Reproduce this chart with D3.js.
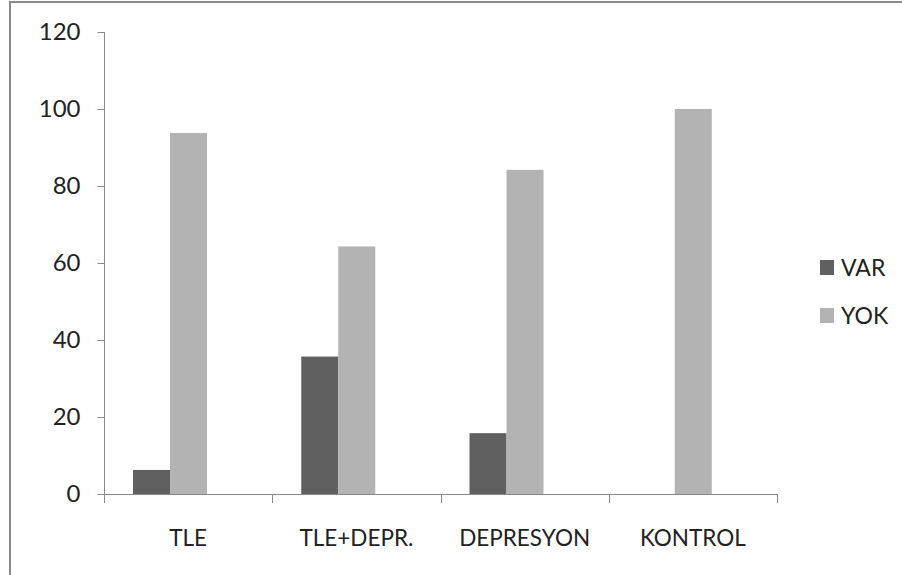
<!DOCTYPE html>
<html><head><meta charset="utf-8">
<script src="https://cdn.jsdelivr.net/npm/d3@7"></script>
<style>html,body{margin:0;padding:0;background:#fff;}svg{display:block;}</style>
</head><body><svg id="c" width="902" height="575"></svg>
<script>
const categories = ["TLE", "TLE+DEPR.", "DEPRESYON", "KONTROL"];
const seriesNames = ["VAR", "YOK"];
const varValues = [6.25, 35.7, 15.8, 0];
const yokValues = [93.75, 64.3, 84.2, 100];
const yTicks = [0, 20, 40, 60, 80, 100, 120];
const colors = ["#606060", "#b3b3b3"];

const svg = d3.select("#c");
const font = "Lato, 'Open Sans', sans-serif";
// border
svg.append("line").attr("x1",10).attr("x2",902).attr("y1",2).attr("y2",2).attr("stroke","#8a8a8a").attr("stroke-width",2);
svg.append("line").attr("x1",10).attr("x2",10).attr("y1",1).attr("y2",575).attr("stroke","#8a8a8a").attr("stroke-width",2);

const x = d3.scaleBand().domain(categories).range([104, 777]).paddingInner(0).paddingOuter(0);
const y = d3.scaleLinear().domain([0,120]).range([494, 32]);
const inner = d3.scaleBand().domain(seriesNames).range([0, 74]);

const data = categories.map((c,i)=>({cat:c, vals:[varValues[i], yokValues[i]]}));
const g = svg.append("g");
data.forEach(d=>{
  d.vals.forEach((v,j)=>{
    if (v<=0) return;
    const x0 = x(d.cat) + 29 + inner(seriesNames[j]);
    g.append("rect").attr("x", x0).attr("width", inner.bandwidth())
     .attr("y", y(v)).attr("height", y(0)-y(v)).attr("fill", colors[j]);
  });
});

// y axis
const ya = svg.append("g").attr("transform","translate(104.5,0)")
  .call(d3.axisLeft(y).tickValues(yTicks).tickSize(7).tickPadding(17).tickFormat(d3.format("d")));
ya.select(".domain").attr("stroke","#8a8a8a").attr("d","M-0,32V494");
ya.selectAll(".tick line").attr("stroke","#8a8a8a");
ya.selectAll("text").attr("font-family",font).attr("font-size",24).attr("fill","#222");

// x axis
const xa = svg.append("g").attr("transform","translate(0,494.5)")
  .call(d3.axisBottom(x).tickSize(0).tickPadding(36));
xa.select(".domain").attr("stroke","#8a8a8a").attr("d","M104,0H777");
xa.selectAll(".tick line").remove();
xa.selectAll("text").attr("font-family",font).attr("font-size",22.5).attr("fill","#222");
const bounds = [104].concat(categories.map(c=>x(c)+x.bandwidth()));
svg.append("g").selectAll("line").data(bounds).join("line")
  .attr("x1",d=>Math.round(d)+0.5).attr("x2",d=>Math.round(d)+0.5).attr("y1",494).attr("y2",503)
  .attr("stroke","#8a8a8a");

// legend
const lg = svg.append("g");
seriesNames.forEach((s,i)=>{
  lg.append("rect").attr("x",820).attr("y",260+i*48).attr("width",14).attr("height",15).attr("fill",colors[i]);
  lg.append("text").attr("x",841).attr("y",276+i*48).text(s)
    .attr("font-family",font).attr("font-size",23).attr("fill","#222");
});
</script></body></html>
